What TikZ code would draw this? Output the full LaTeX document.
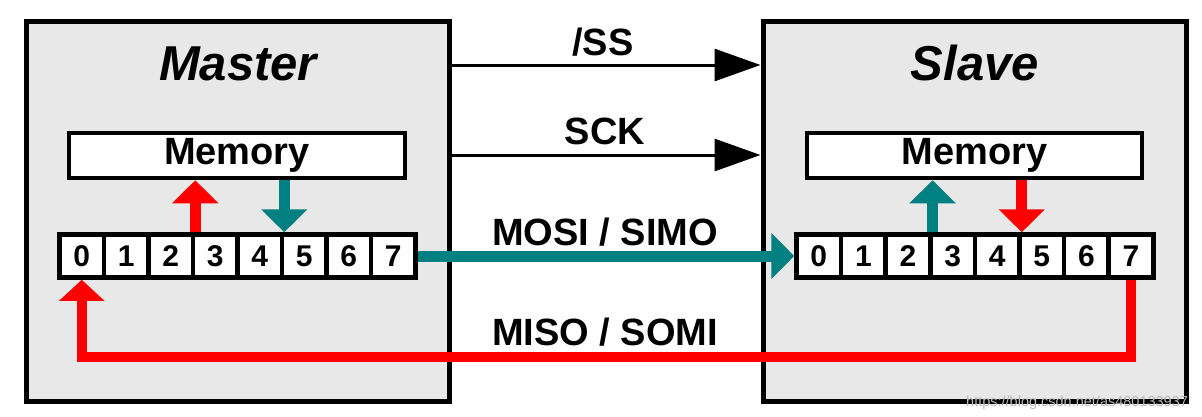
\documentclass[tikz,border=0pt]{standalone}
\usepackage{fontspec}
\setmainfont{Liberation Sans}
\usetikzlibrary{arrows.meta}
\definecolor{boxgray}{HTML}{E8E8E8}
\definecolor{tealc}{HTML}{008080}
\definecolor{redc}{HTML}{FF0000}
\pgfdeclarelayer{bg}
\pgfdeclarelayer{fg}
\pgfsetlayers{bg,main,fg}
\begin{document}
\begin{tikzpicture}[x=1pt,y=-1pt,
  unit/.style={draw=black, line width=5pt, fill=boxgray, inner sep=0pt, minimum width=423pt, minimum height=380pt},
  mem/.style={draw=black, line width=4.5pt, fill=white, inner sep=0pt, minimum width=336pt, minimum height=45pt, font=\fontsize{38}{40}\selectfont\bfseries},
  cell/.style={draw=black, line width=4.5pt, fill=white, inner sep=0pt, minimum width=44.5pt, minimum height=43pt, font=\fontsize{30}{32}\selectfont\bfseries},
  title/.style={font=\fontsize{49}{52}\selectfont\bfseries\itshape, anchor=base, inner sep=0pt},
  lbl/.style={font=\fontsize{38}{40}\selectfont\bfseries, anchor=base, inner sep=0pt},
  ctl/.style={draw=black, line width=3pt, -{Triangle[length=46pt,width=32pt]}},
  tealarrow/.style={color=tealc, line width=11pt, -{Triangle[length=23pt,width=45pt]}},
  redarrow/.style={color=redc, line width=11pt, -{Triangle[length=23pt,width=45pt]}},
  redline/.style={color=redc, line width=10pt, -{Triangle[length=21pt,width=44pt]}}
]
\begin{pgfonlayer}{bg}
\fill[white] (0,0) rectangle (1202,416);
\node[unit] (master) at (237.5,211) {};
\node[unit] (slave) at (974.5,211) {};
\end{pgfonlayer}
\useasboundingbox (0,0) rectangle (1202,416);

\node[title] (tmaster) at (238,80) {Master};
\node[title] (tslave) at (975,80) {Slave};

\begin{pgfonlayer}{fg}
\node[mem] (mmem) at (237,155.5) {Memory};
\node[mem, minimum width=335pt] (smem) at (974.5,155.5) {Memory};
\foreach \i in {0,...,7} {
  \node[cell] (m\i) at ({81.75+44.5*\i},256) {\i};
  \node[cell, minimum width=44.6pt] (s\i) at ({818.8+44.6*\i},256) {\i};
}
\end{pgfonlayer}

% control lines
\draw[ctl] (master.east |- 0,65) -- (slave.west |- 0,65);
\draw[ctl] (master.east |- 0,155) -- (slave.west |- 0,155);

% labels
\node[lbl] (lss) at (603,55) {/SS};
\node[lbl] (lsck) at (605,144) {SCK};
\node[lbl] (lmosi) at (605,245) {MOSI / SIMO};
\node[lbl] (lmiso) at (605,345) {MISO / SOMI};

% data connectors
\draw[redarrow] (m2.north east) -- (m2.north east |- mmem.south);
\draw[tealarrow] (m4.north east |- mmem.south) -- (m4.north east);
\draw[tealarrow] (s2.north east) -- (s2.north east |- smem.south);
\draw[redarrow] (s4.north east |- smem.south) -- (s4.north east);
\draw[tealarrow] (m7.east) -- (s0.west);
\draw[redline] (s7.south) -- (s7.south |- 0,357) -| (m0.south);

% watermark
\node[anchor=base west, inner sep=0pt, font=\fontsize{14.5}{16}\selectfont, text=gray!55] (wm) at (966,406) {https://blog.csdn.net/as480133937};
\end{tikzpicture}
\end{document}
